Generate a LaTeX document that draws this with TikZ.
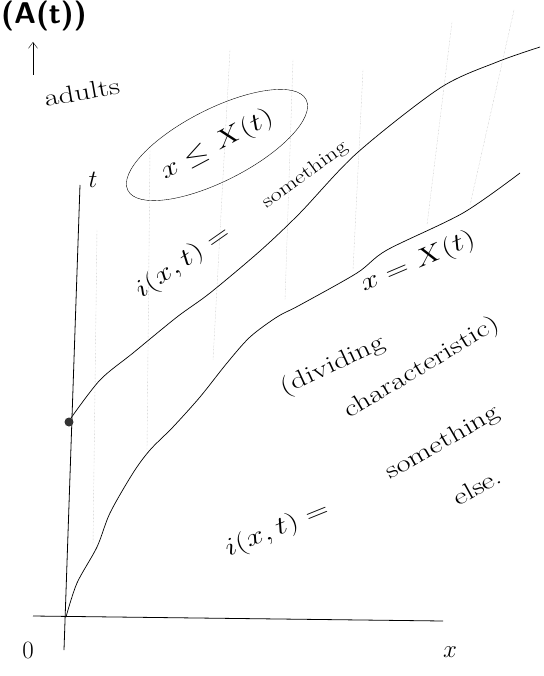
\documentclass[tikz,border=0pt]{standalone}
\usepackage{tikz}
\usetikzlibrary{arrows.meta,positioning,shapes.geometric}

\tikzset{
  hand/.style={font=\fontsize{24}{28}\selectfont, inner sep=1pt},
  small/.style={font=\fontsize{19}{22}\selectfont, inner sep=1pt},
  hw/.style={rotate=#1, xscale=1.3},
  guide/.style={gray!60, densely dotted, thin},
  curve/.style={line width=0.7pt},
}

\begin{document}
\begin{tikzpicture}[x=1pt,y=-1pt]
\useasboundingbox (0,0) rectangle (543,676);

% faint guide lines
\draw[guide] (97,230) -- (93,545);
\draw[guide] (150,150) -- (147,450);
\draw[guide] (230,50) -- (213,360);
\draw[guide] (293,60) -- (285,300);
\draw[guide] (363,70) -- (353,270);
\draw[guide] (452,22) -- (427,225);
\draw[guide] (514,10) -- (470,205);

% axes
\coordinate (ttop) at (80,185);
\coordinate (tbot) at (64,650);
\coordinate (xleft) at (33,616);
\coordinate (xright) at (443,621);
\draw[line width=0.8pt] (ttop) -- (tbot);
\draw[line width=0.8pt] (xleft) -- (xright);

\node[hand] (tlab) at (93,180) {$t$};
\node[hand] (xlab) at (450,652) {$x$};
\node[hand] (zero) at (28,650) {$0$};

% title
\node[font=\fontsize{30}{34}\selectfont\sffamily\bfseries, anchor=west, inner sep=0pt] (title) at (1,16) {(A(t))};
\coordinate (arrbot) at (33,75);
\coordinate (arrtop) at (33,42);
\draw[-{Straight Barb[length=6pt,width=9pt]}] (arrbot) -- (arrtop);
\node[hand, hw=10] (adults) at (82,92) {adults};

% dividing curves
\node[circle, fill=black!80, inner sep=0pt, minimum size=9pt] (dot) at (69,422) {};
\draw[curve] plot[smooth] coordinates {(71,418) (100,380) (133,353) (177,317) (210,293)
  (260,251) (300,213) (357,153) (440,88) (497,62) (540,47)};
\draw[curve] plot[smooth] coordinates {(66,617) (77,583) (97,547) (110,513) (133,473)
  (150,450) (173,427) (200,397) (227,363) (250,337) (277,317) (300,305) (357,273)
  (387,250) (463,213) (520,173)};

% region labels
\node[draw, ellipse, rotate=27, minimum width=200pt, minimum height=72pt] (region) at (217,145) {};
\node[hand, hw=28] (regtext) at (region.center) {$x \le X(t)$};
\node[hand, hw=35] (iup) at (183,262) {$i(x,t) =$};
\node[small, hw=36] (someup) at (305,175) {something};
\node[hand, hw=23] (divX) at (418,262) {$x = X(t)$};
\node[hand, hw=25] (divA) at (333,366) {(dividing};
\node[hand, hw=31] (divB) at (422,368) {characteristic)};
\node[hand, hw=22] (ilow) at (277,530) {$i(x,t) =$};
\node[hand, hw=30] (somelow) at (443,443) {something};
\node[hand, hw=29] (else) at (477,487) {else.};

\end{tikzpicture}
\end{document}
